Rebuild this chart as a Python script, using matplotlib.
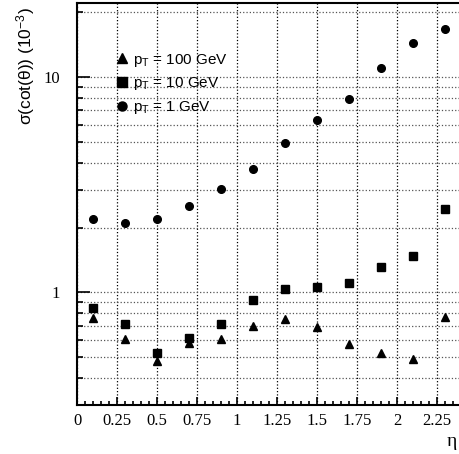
import numpy as np
import matplotlib
matplotlib.use('Agg')
import matplotlib.pyplot as plt
from matplotlib.ticker import FixedLocator, MultipleLocator, NullFormatter
from matplotlib.lines import Line2D

plt.rcParams['mathtext.fontset'] = 'custom'
plt.rcParams['mathtext.rm'] = 'Liberation Sans'
plt.rcParams['mathtext.it'] = 'Liberation Sans'

# data
eta = [0.1, 0.3, 0.5, 0.7, 0.9, 1.1, 1.3, 1.5, 1.7, 1.9, 2.1, 2.3]
sig_100gev = [0.764, 0.61, 0.481, 0.58, 0.61, 0.701, 0.75, 0.69, 0.573, 0.522, 0.492, 0.772]
sig_10gev = [0.843, 0.714, 0.522, 0.615, 0.714, 0.925, 1.04, 1.06, 1.105, 1.31, 1.47, 2.43]
sig_1gev = [2.19, 2.11, 2.2, 2.51, 3.03, 3.75, 4.92, 6.35, 7.91, 11.06, 14.37, 16.8]
xticks = [0, 0.25, 0.5, 0.75, 1, 1.25, 1.5, 1.75, 2, 2.25]
xticklabels = ['0', '0.25', '0.5', '0.75', '1', '1.25', '1.5', '1.75', '2', '2.25']
labels = ['p$_\\mathregular{T}$ = 100 GeV', 'p$_\\mathregular{T}$ = 10 GeV', 'p$_\\mathregular{T}$ = 1 GeV']

fig = plt.figure(figsize=(4.59, 4.54), dpi=100)
ax = fig.add_axes([0.1678, 0.108, 0.8366, 0.8847])

ax.plot(eta, sig_100gev, ls='none', marker='^', ms=5.5, color='black')
ax.plot(eta, sig_10gev, ls='none', marker='s', ms=5.2, color='black')
ax.plot(eta, sig_1gev, ls='none', marker='o', ms=5.5, color='black')

ax.set_yscale('log')
ax.set_xlim(0, 2.4)
ax.set_ylim(0.3, 22)

ax.xaxis.set_major_locator(FixedLocator(xticks))
ax.set_xticklabels(xticklabels, family='Liberation Serif', fontsize=12)
ax.xaxis.set_minor_locator(MultipleLocator(0.05))
ax.yaxis.set_major_locator(FixedLocator([1, 10]))
ax.set_yticklabels(['1', '10'], family='Liberation Serif', fontsize=12)
ax.yaxis.set_minor_locator(FixedLocator([0.4, 0.5, 0.6, 0.7, 0.8, 0.9,
                                         2, 3, 4, 5, 6, 7, 8, 9, 20]))
ax.yaxis.set_minor_formatter(NullFormatter())

ax.tick_params(axis='x', which='major', direction='in', length=6, width=1.2, pad=6)
ax.tick_params(axis='x', which='minor', direction='in', length=3, width=1.2)
ax.tick_params(axis='y', which='major', direction='in', length=9, width=1.2, pad=12)
ax.tick_params(axis='y', which='minor', direction='in', length=4.5, width=1.2)

ax.grid(True, axis='x', which='major', ls=':', color='black', lw=0.9)
ax.grid(True, axis='y', which='both', ls=':', color='#555555', lw=0.9)

for s in ['left', 'bottom', 'top', 'right']:
    ax.spines[s].set_linewidth(1.5)

ax.set_ylabel('σ(cot(θ)) (10$^{\\mathregular{-3}}$)', family='Liberation Sans', fontsize=12.5)
ax.yaxis.set_label_coords(-0.103, 0.99)
ax.yaxis.label.set_horizontalalignment('right')
ax.set_xlabel('η', family='Liberation Serif', fontsize=14)
ax.xaxis.set_label_coords(0.99, -0.07)
ax.xaxis.label.set_horizontalalignment('right')

handles = [Line2D([], [], ls='none', marker=m, ms=6.5, color='black') for m in ['^', 's', 'o']]
leg = ax.legend(handles, labels, loc='upper left', bbox_to_anchor=(0.085, 0.895),
                frameon=False, handlelength=0.8, handletextpad=0.3,
                labelspacing=0.45, borderaxespad=0,
                prop={'family': 'Liberation Sans', 'size': 11})

fig.savefig('out.png', dpi=100)
